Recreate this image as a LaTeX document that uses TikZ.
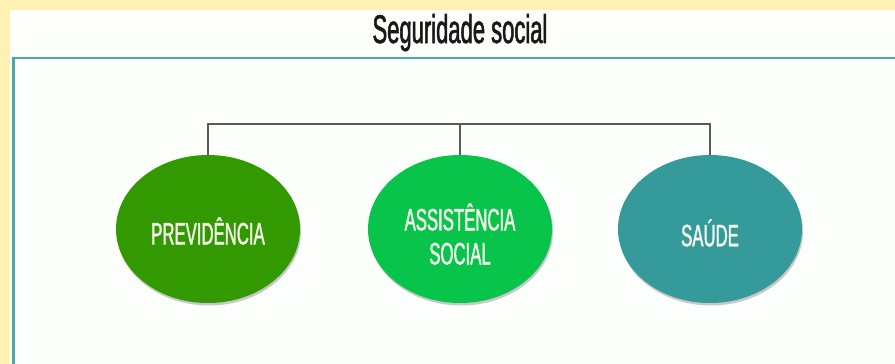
\documentclass[tikz,border=0pt]{standalone}
\usepackage{fontspec}
\usetikzlibrary{shapes.geometric,shadows}
\newfontfamily\condfont[FakeStretch=0.54,FakeBold=1.3]{Liberation Sans}
\newfontfamily\titlefont[FakeStretch=0.55,FakeBold=1.4]{Liberation Sans}
\definecolor{bgyellow}{HTML}{FFF0B3}
\definecolor{panelwhite}{HTML}{FCFEFC}
\definecolor{frameteal}{HTML}{52A6A6}
\definecolor{linkgray}{HTML}{5A5A5A}
\definecolor{cprev}{HTML}{339900}
\definecolor{cassist}{HTML}{08C44A}
\definecolor{csaude}{HTML}{359A9A}
\definecolor{txtwhite}{HTML}{F4F6EC}
\tikzset{
  bubble/.style={ellipse, minimum width=184pt, minimum height=148pt, inner sep=0pt,
    draw=none, drop shadow={shadow xshift=1pt, shadow yshift=-2.5pt, opacity=0.35, fill=black!60}},
  bubbletext/.style={text=txtwhite, font=\condfont\fontsize{31}{40}\selectfont, align=center},
  link/.style={draw=linkgray, line width=1.4pt},
  titletext/.style={text=black!90, font=\titlefont\fontsize{40}{44}\selectfont}
}
\begin{document}
\begin{tikzpicture}[x=1pt,y=-1pt]
\useasboundingbox (0,0) rectangle (895,364);
\fill[bgyellow] (0,0) rectangle (895,364);
\fill[panelwhite] (10,10) rectangle (895,364);
\draw[frameteal, line width=2.6pt] (13.5,364) -- (13.5,58) -- (895,58);
\node[titletext, anchor=base] (title) at (460,43) {Seguridade social};
\node[bubble, fill=cprev] (prev) at (208,229) {};
\node[bubble, fill=cassist] (assist) at (460,229) {};
\node[bubble, fill=csaude] (saude) at (710,229) {};
\node[bubbletext] (tprev) at ([yshift=-2pt]prev.center) {PREVIDÊNCIA};
\node[bubbletext] (tassist) at ([yshift=-5pt]assist.center) {ASSISTÊNCIA\\[-6pt]SOCIAL};
\node[bubbletext] (tsaude) at ([yshift=-4pt]saude.center) {SAÚDE};
\coordinate (bar) at (0,124);
\draw[link] (prev.north) -- (prev.north |- bar) -- (saude.north |- bar) -- (saude.north);
\draw[link] (assist.north |- bar) -- (assist.north);
\end{tikzpicture}
\end{document}
